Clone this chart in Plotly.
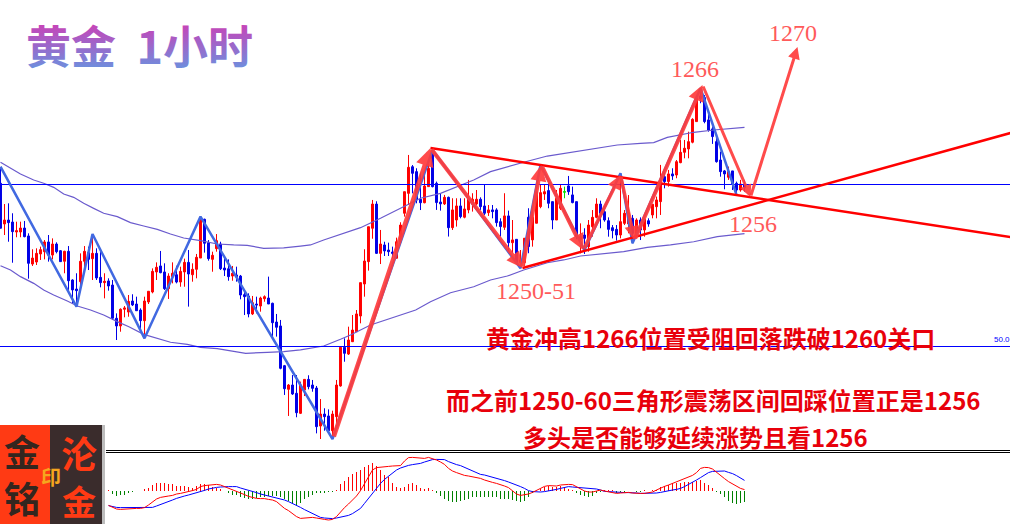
import plotly.graph_objects as go

# hourly candles (bar number = position in the list)
opens = [1257.56,1254.17,1254.5,1254.33,1253.5,1253.5,1253.83,1253.17,1250.83,1251.0,
1251.67,1251.86,1252.67,1251.58,1252.5,1251.94,1251.06,1251.89,1249.5,1248.75,
1249.36,1251.06,1251.78,1251.28,1251.72,1249.72,1249.28,1249.42,1249.08,1246.31,
1245.67,1247.06,1246.83,1247.75,1247.5,1247.0,1246.11,1247.67,1248.5,1250.17,
1250.67,1250.17,1248.78,1249.78,1249.94,1249.33,1250.17,1250.97,1249.94,1250.39,
1251.33,1254.56,1252.61,1251.22,1252.11,1252.5,1250.5,1250.44,1249.83,1249.92,
1249.83,1248.28,1248.17,1246.67,1247.5,1247.33,1247.94,1248.0,1247.56,1246.0,
1245.67,1242.36,1240.39,1240.75,1240.06,1238.39,1240.33,1241.22,1240.75,1240.5,
1237.33,1238.33,1238.17,1236.94,1238.11,1240.67,1243.89,1243.33,1244.36,1245.19,
1246.5,1249.17,1251.03,1253.81,1255.83,1251.72,1252.42,1252.0,1251.83,1251.31,
1252.69,1255.06,1256.72,1258.94,1258.53,1256.22,1255.94,1257.28,1260.28,1257.56,
1256.0,1255.84,1256.39,1253.86,1254.5,1255.67,1254.73,1255.34,1255.84,1255.84,
1256.23,1255.67,1255.11,1255.34,1255.34,1254.36,1253.89,1254.84,1252.61,1252.89,
1250.95,1250.95,1254.73,1252.84,1254.23,1255.61,1256.67,1256.95,1256.03,1254.5,
1255.48,1256.81,1257.34,1256.59,1256.03,1252.89,1253.25,1252.28,1253.94,1254.72,
1255.83,1255.19,1254.44,1253.86,1253.72,1253.25,1254.22,1254.17,1254.64,1253.39,
1254.5,1253.67,1254.44,1254.92,1255.61,1256.03,1258.11,1257.7,1258.34,1258.25,
1259.28,1260.14,1260.42,1260.98,1262.7,1264.84,1264.7,1262.84,1262.09,1261.03,
1259.5,1258.59,1258.06,1258.59,1257.56,1257.0,1257.42]
highs = [1258.81,1255.83,1255.89,1255.06,1254.36,1254.36,1254.42,1253.39,1252.06,1252.14,
1252.28,1252.83,1253.25,1252.97,1252.64,1252.0,1251.94,1252.33,1249.56,1250.06,
1251.72,1252.33,1252.28,1253.11,1252.14,1251.94,1250.06,1249.64,1249.5,1246.72,
1247.14,1247.33,1248.25,1248.31,1248.11,1247.14,1248.11,1248.56,1250.47,1250.97,
1251.92,1250.89,1250.06,1250.97,1250.69,1250.61,1251.28,1252.0,1250.89,1251.67,
1254.78,1254.61,1252.83,1251.86,1253.33,1252.69,1251.31,1251.22,1250.67,1250.61,
1249.92,1248.53,1248.39,1248.17,1248.11,1248.11,1248.22,1249.78,1247.61,1246.67,
1246.17,1242.42,1240.83,1241.58,1241.58,1241.03,1241.22,1241.56,1241.17,1240.67,
1239.58,1238.81,1238.72,1238.61,1241.17,1243.89,1244.64,1245.61,1246.58,1247.0,
1249.28,1252.06,1253.94,1256.17,1256.06,1253.67,1252.69,1252.61,1252.28,1253.03,
1254.31,1256.86,1259.92,1259.08,1258.81,1258.39,1258.39,1259.5,1260.34,1257.7,
1256.73,1256.59,1256.45,1256.31,1256.31,1256.31,1256.31,1257.84,1256.73,1257.0,
1256.39,1257.48,1255.75,1255.75,1255.48,1254.64,1256.73,1255.28,1254.5,1252.89,
1252.0,1252.98,1255.48,1255.34,1257.28,1257.42,1257.5,1257.56,1256.03,1257.0,
1257.42,1257.28,1258.17,1257.28,1256.03,1254.22,1253.81,1254.5,1255.33,1256.31,
1256.11,1255.33,1254.72,1254.08,1254.08,1258.39,1255.33,1256.58,1254.92,1254.64,
1254.72,1254.83,1254.64,1255.81,1256.45,1259.09,1258.53,1258.67,1258.81,1259.5,
1261.17,1261.17,1261.86,1262.98,1264.78,1265.48,1264.92,1263.39,1262.28,1261.45,
1260.2,1258.67,1258.95,1258.59,1257.7,1257.84,1257.84]
lows = [1253.81,1253.25,1252.69,1250.94,1253.06,1253.06,1253.06,1249.61,1250.67,1250.75,
1251.17,1251.22,1251.03,1251.22,1251.72,1251.03,1250.06,1248.67,1247.5,1247.28,
1248.61,1250.33,1250.33,1249.5,1249.5,1248.89,1247.97,1248.61,1246.17,1244.5,
1245.19,1246.39,1246.44,1247.33,1246.94,1245.33,1244.64,1247.5,1248.39,1249.5,
1250.06,1248.67,1247.92,1249.22,1249.22,1248.94,1248.94,1247.28,1249.36,1249.64,
1251.33,1251.78,1251.11,1250.19,1251.86,1250.33,1249.83,1249.44,1249.44,1249.36,
1247.89,1246.58,1246.39,1246.58,1246.72,1246.86,1247.69,1247.5,1244.78,1244.78,
1242.06,1239.92,1238.17,1239.92,1238.06,1238.33,1239.83,1240.39,1240.19,1236.72,
1236.25,1236.94,1236.94,1236.31,1237.56,1240.61,1242.69,1243.25,1244.33,1245.19,
1245.89,1248.11,1250.28,1252.94,1251.67,1250.83,1251.5,1251.5,1251.31,1251.31,
1252.56,1254.78,1255.75,1256.72,1255.89,1255.33,1255.89,1257.28,1257.22,1255.34,
1255.28,1255.75,1253.12,1253.67,1253.95,1254.64,1254.64,1255.06,1255.2,1255.75,
1255.34,1254.92,1254.84,1254.64,1253.95,1253.12,1253.67,1251.73,1251.73,1250.89,
1250.48,1250.61,1251.73,1252.28,1254.23,1255.48,1256.17,1255.48,1253.73,1254.5,
1255.34,1256.31,1256.59,1255.89,1252.9,1251.72,1251.67,1251.86,1253.11,1254.64,
1253.81,1254.36,1253.11,1252.97,1252.78,1252.97,1254.08,1253.39,1252.56,1253.11,
1252.83,1253.11,1253.94,1254.64,1254.64,1254.92,1257.14,1257.28,1257.84,1257.98,
1259.23,1259.64,1259.64,1260.89,1262.7,1264.23,1262.56,1261.86,1260.84,1259.28,
1258.11,1257.06,1257.84,1257.0,1256.59,1256.86,1256.86]
closes = [1253.81,1254.5,1254.28,1253.53,1253.61,1253.83,1253.11,1250.89,1251.33,1251.72,
1252.03,1252.67,1251.58,1252.5,1251.86,1251.03,1251.89,1249.44,1248.67,1248.61,
1251.06,1251.89,1251.22,1251.72,1249.67,1249.28,1249.39,1249.0,1246.31,1245.67,
1247.06,1247.17,1247.72,1247.42,1246.94,1246.11,1247.75,1248.56,1250.22,1250.56,
1250.11,1248.78,1249.83,1250.06,1249.33,1250.22,1250.97,1250.0,1250.39,1251.39,
1254.56,1252.56,1251.28,1251.56,1252.78,1250.44,1250.33,1249.78,1250.06,1249.78,
1248.25,1248.11,1246.67,1247.61,1247.42,1248.0,1248.11,1247.5,1245.94,1245.56,
1242.14,1240.44,1240.75,1240.0,1238.44,1240.75,1241.22,1240.61,1240.47,1237.28,
1238.33,1238.11,1236.94,1238.33,1240.75,1243.89,1243.39,1244.5,1245.33,1246.67,
1249.28,1251.08,1253.94,1255.83,1251.72,1252.5,1251.92,1251.86,1251.72,1252.69,
1254.08,1256.86,1258.89,1258.39,1256.17,1255.94,1257.33,1258.81,1257.28,1255.95,
1255.84,1256.39,1253.86,1255.34,1255.67,1254.78,1255.42,1256.23,1256.23,1256.23,
1255.61,1255.06,1255.34,1255.2,1254.28,1253.95,1254.84,1252.61,1252.84,1250.95,
1251.17,1252.98,1252.28,1254.73,1256.86,1256.78,1256.86,1255.89,1254.5,1256.31,
1257.14,1256.86,1256.86,1255.95,1253.11,1253.11,1252.97,1254.08,1254.72,1255.83,
1255.06,1254.5,1253.72,1253.61,1253.25,1254.36,1255.06,1255.11,1253.39,1254.5,
1253.67,1254.56,1254.17,1255.81,1256.17,1257.7,1257.7,1258.34,1258.17,1259.36,
1260.14,1260.48,1261.03,1262.89,1264.64,1264.61,1262.7,1262.0,1261.45,1259.36,
1258.53,1258.34,1258.53,1257.5,1257.0,1257.5,1257.2]
doji_bar = 141  # the single green bar

# moving average channel
upper_x = [0,2.5,5,8.3,10.8,13.3,15.8,18.3,20.8,23.3,25.8,29.2,32.5,35.8,39.2,42.5,45.8,50,54.2,58.3,61.7,65.8,70.8,75,77.5,80.8,85,90,95,100,105,110,114.2,118.3,122.5,126.7,130.8,136.7,143.3,148.3,154.2,160,163.3,166.7,170,173.3,178.3,186]
upper_y = [1259.31,1258.81,1258.33,1257.83,1257.56,1257.22,1256.67,1256.39,1255.89,1255.47,1255.06,1254.78,1254.28,1254.0,1253.72,1253.33,1253.0,1252.78,1252.5,1252.42,1252.39,1252.14,1252.17,1252.33,1252.42,1252.83,1253.31,1253.86,1254.64,1255.47,1256.31,1256.72,1257.28,1257.83,1258.53,1258.94,1259.31,1259.83,1260.19,1260.47,1260.75,1260.89,1260.95,1261.39,1261.59,1261.81,1262.0,1262.22]
lower_x = [0,2.5,5,8.3,10.8,13.3,16.7,19.2,22.5,25.8,29.2,32.1,35.8,39.2,42.5,46.7,50,54.2,58.3,61.3,66.7,70.8,75,79.2,80.8,85,87.5,92.5,97.5,103.8,107.5,112.5,118.3,122.5,126.7,130.8,136.7,140.8,145,150,155.8,161.7,167.5,173.3,179.2,186]
lower_y = [1250.69,1250.33,1249.78,1249.22,1248.67,1248.25,1247.75,1247.33,1247.0,1246.58,1246.03,1245.61,1244.97,1244.64,1244.31,1244.14,1243.89,1243.78,1243.53,1243.39,1243.47,1243.53,1243.67,1243.89,1244.0,1244.56,1244.92,1245.75,1246.31,1247.0,1247.69,1248.44,1248.94,1249.5,1249.83,1250.33,1250.94,1251.17,1251.5,1251.67,1251.86,1252.22,1252.42,1252.69,1253.11,1253.36]

# zigzag indicator
zigzag_x = [0,19,23,36,50,83,108,130,135,146,155,158,175,184]
zigzag_y = [1258.94,1247.28,1253.33,1244.64,1254.78,1236.25,1260.34,1250.48,1259.08,1252.0,1258.39,1252.56,1265.48,1256.6]

# hand drawn arrows: tail bar, tail price, head bar, head price, line width
arrow_x0 = [83.2,107.5,130.5,135.2,145.7,155,158.5,175.5,187.5]
arrow_y0 = [1236.33,1260.5,1250.5,1259.08,1252,1258.25,1252.83,1265.75,1256.42]
arrow_x1 = [107.5,130.5,135.2,145.7,155,158.5,175.5,187.5,199.25]
arrow_y1 = [1260.5,1250.5,1259.08,1252,1258.25,1252.83,1265.75,1256.42,1268.92]
arrow_w = [4.5,4,4,4,3.5,3.5,4,3,3]

# triangle lines and horizontal levels
tri_upper_x = [107.5,252.5]
tri_upper_y = [1260.5,1253.08]
tri_lower_x = [130.5,252.5]
tri_lower_y = [1250.5,1261.75]
levels = [1257.458,1243.958]

# MACD panel, starts at bar 27
macd_start = 27
macd_hist = [.03,-.15,-.25,-.22,-.18,-.08,-.03,0,0,.07,.15,.32,.40,.40,.38,.37,.33,.27,.25,.25,.18,.13,.25,.35,.35,.32,.22,.15,.07,0,
-.12,-.18,-.22,-.28,-.33,-.38,-.42,-.37,-.32,-.28,-.25,-.25,-.27,-.3,-.42,-.52,-.62,-.68,-.58,-.38,-.28,-.18,-.12,-.1,-.07,-.03,-.02,.05,.35,.52,
.68,.85,.97,1.05,1.18,1.3,1.38,1.27,1.05,.8,.68,.38,.22,
.13,.22,.33,.4,.3,.17,.12,.15,.02,-.08,-.25,-.38,-.48,-.55,-.55,-.52,-.45,-.42,-.32,-.28,-.32,-.28,-.32,-.32,-.32,-.38,-.38,-.38,-.45,-.52,-.55,-.48,-.28,-.12,0,
.12,.22,.25,.22,.22,.25,.22,.12,.05,-.08,-.18,-.25,-.28,-.25,-.12,-.05,.05,.05,.02,-.08,-.05,-.02,0,0,-.03,-.02,.02,0,.02,.05,
.22,.27,.32,.38,.42,.42,.43,.45,.47,.52,.55,.42,.3,.13,-.03,-.15,-.32,-.48,-.58,-.65,-.62,-.57]
macd_line = [-.72,-.82,-.90,-.92,-.90,-.88,-.87,-.87,-.87,-.83,-.70,-.53,-.40,-.32,-.30,-.25,-.22,-.15,-.12,-.08,-.05,.02,.08,.22,.27,.28,.30,.33,.30,.22,
.15,.08,.02,-.08,-.18,-.27,-.32,-.37,-.38,-.38,-.42,-.45,-.53,-.70,-.87,-.98,-1.15,-1.28,-1.37,-1.35,-1.32,-1.32,-1.35,-1.40,-1.42,-1.45,-1.42,-1.28,-1.03,-.83,
-.65,-.45,-.25,.02,.38,.72,1.05,1.17,1.18,1.22,1.23,1.25,1.25,
1.27,1.50,1.67,1.68,1.67,1.63,1.63,1.68,1.63,1.55,1.45,1.33,1.13,1.00,.92,.85,.78,.75,.72,.68,.63,.55,.48,.43,.38,.33,.25,.17,.02,-.15,-.22,-.20,-.15,-.07,.02,.13,
.23,.27,.25,.25,.30,.33,.33,.32,.20,.10,0,-.05,-.05,0,.05,0,-.05,-.08,-.12,-.10,-.07,-.07,-.10,-.12,-.12,-.12,-.10,-.05,.05,.15,
.23,.30,.38,.47,.55,.62,.68,.78,.92,1.13,1.18,1.17,1.10,.93,.78,.62,.47,.35,.25,.13,.07]
signal_line = [-.73,-.78,-.82,-.83,-.83,-.83,-.83,-.83,-.85,-.85,-.83,-.82,-.75,-.68,-.62,-.53,-.45,-.37,-.30,-.25,-.20,-.15,-.10,-.03,.03,.10,.15,.18,.20,.22,
.22,.22,.22,.15,.10,.05,-.02,-.08,-.15,-.20,-.25,-.28,-.33,-.38,-.45,-.53,-.62,-.70,-.82,-.93,-1.03,-1.13,-1.23,-1.32,-1.35,-1.37,-1.38,-1.35,-1.30,-1.27,
-1.22,-1.13,-1.02,-.87,-.62,-.37,-.08,.13,.38,.58,.75,.92,1.05,
1.15,1.22,1.28,1.32,1.35,1.38,1.45,1.52,1.57,1.58,1.58,1.57,1.47,1.38,1.32,1.27,1.18,1.10,1.00,.88,.83,.80,.75,.68,.63,.58,.52,.45,.38,.30,.22,.13,.02,-.03,-.05,-.05,
-.03,0,.03,.08,.13,.18,.22,.20,.18,.18,.17,.13,.12,.10,.05,-.02,-.03,-.05,-.07,-.07,-.08,-.08,-.08,-.10,-.12,-.12,-.12,-.12,-.10,-.07,
-.02,.02,.05,.08,.13,.22,.32,.43,.55,.67,.78,.92,.98,.98,1.00,1.00,.93,.87,.77,.65,.53]

# price labels: text, bar, price
price_labels = ["1270", "1266", "1256", "1250-51"]
price_label_x = [198.2, 173.7, 188.2, 133.8]
price_label_y = [1270.08, 1267.08, 1254.17, 1248.58]

# red comment lines: text, bar, price
comments = ["黄金冲高1266位置受阻回落跌破1260关口",
            "而之前1250-60三角形震荡区间回踩位置正是1256",
            "多头是否能够延续涨势且看1256"]
comment_x = [177.4, 178.2, 173.7]
comment_y = [1244.67, 1239.58, 1236.42]

W, H = 1010, 524
BLUE = "#0000ff"
RED = "#ff0000"
PANEL_TOP = 1 - 453 / H

fig = go.Figure()

bars = list(range(len(opens)))
normal = [i for i in bars if i != doji_bar]
fig.add_trace(go.Candlestick(
    x=normal,
    open=[opens[i] for i in normal], high=[highs[i] for i in normal],
    low=[lows[i] for i in normal], close=[closes[i] for i in normal],
    increasing=dict(line=dict(color="#ff0000", width=1), fillcolor="#ff0000"),
    decreasing=dict(line=dict(color="#0000e6", width=1), fillcolor="#0000e6"),
    hoverinfo="skip", showlegend=False))
fig.add_trace(go.Candlestick(
    x=[doji_bar - 1, doji_bar],
    open=[None, opens[doji_bar]], high=[None, highs[doji_bar]],
    low=[None, lows[doji_bar]], close=[None, closes[doji_bar]],
    increasing=dict(line=dict(color="#00e000", width=1), fillcolor="#00e000"),
    decreasing=dict(line=dict(color="#00e000", width=1), fillcolor="#00e000"),
    hoverinfo="skip", showlegend=False))

for xs, ys in [(upper_x, upper_y), (lower_x, lower_y)]:
    fig.add_trace(go.Scatter(x=xs, y=ys, mode="lines", hoverinfo="skip",
                             line=dict(color="#6a5acd", width=1.2), showlegend=False))

for lv in levels:
    fig.add_trace(go.Scatter(x=[-1, 253], y=[lv, lv], mode="lines", hoverinfo="skip",
                             line=dict(color=BLUE, width=1), showlegend=False))

fig.add_trace(go.Scatter(x=zigzag_x, y=zigzag_y, mode="lines", hoverinfo="skip",
                         line=dict(color="#4169e1", width=2.5), showlegend=False))

fig.add_trace(go.Scatter(x=tri_upper_x, y=tri_upper_y, mode="lines", hoverinfo="skip",
                         line=dict(color=RED, width=2.5), showlegend=False))
fig.add_trace(go.Scatter(x=tri_lower_x, y=tri_lower_y, mode="lines", hoverinfo="skip",
                         line=dict(color=RED, width=2.5), showlegend=False))

# MACD
macd_x = list(range(macd_start, macd_start + len(macd_hist)))
fig.add_trace(go.Bar(x=macd_x, y=macd_hist, width=0.25, yaxis="y2", hoverinfo="skip",
                     marker=dict(color=["#ff0000" if v >= 0 else "#008000" for v in macd_hist],
                                 line=dict(width=0)),
                     showlegend=False))
fig.add_trace(go.Scatter(x=macd_x, y=signal_line, yaxis="y2", mode="lines", hoverinfo="skip",
                         line=dict(color=BLUE, width=1), showlegend=False))
fig.add_trace(go.Scatter(x=macd_x, y=macd_line, yaxis="y2", mode="lines", hoverinfo="skip",
                         line=dict(color=RED, width=1), showlegend=False))

annotations = []

for i in range(len(arrow_x0)):
    annotations.append(dict(x=arrow_x1[i], y=arrow_y1[i], ax=arrow_x0[i], ay=arrow_y0[i],
                            xref="x", yref="y", axref="x", ayref="y", text="",
                            showarrow=True, arrowhead=2, arrowsize=0.8, arrowwidth=arrow_w[i],
                            arrowcolor="rgba(255,60,60,0.92)", standoff=0))

for t, x, y in zip(price_labels, price_label_x, price_label_y):
    annotations.append(dict(x=x, y=y, xref="x", yref="y", text=t, showarrow=False,
                            font=dict(family="Liberation Serif", size=24, color="#ff5a5a")))

for t, x, y in zip(comments, comment_x, comment_y):
    annotations.append(dict(x=x, y=y, xref="x", yref="y", text=t, showarrow=False,
                            font=dict(family="Noto Sans CJK SC", size=24, color="#e8000b",
                                      weight="bold")))

# small label of the 50.0 level at the page edge
annotations.append(dict(x=247.9, y=levels[1] + 0.55, xref="x", yref="y", text="50.0",
                        xanchor="left", showarrow=False,
                        font=dict(family="Liberation Sans", size=8, color=BLUE)))

# title, gets its gradient in post_script
annotations.append(dict(x=24 / W, y=1 - 44 / H, xref="paper", yref="paper",
                        text="黄金\u00a0\u00a01小时", xanchor="left", yanchor="middle",
                        showarrow=False,
                        font=dict(family="Noto Sans CJK SC", size=45, color="#a060c0",
                                  weight="bold")))

# logo stamp
logo_text = [("金", 22, 450, 36, "#33261f"), ("铭", 22, 497, 36, "#33261f"),
             ("沦", 79, 452, 36, "#ff3a14"), ("金", 79, 500, 34, "#ff3a14"),
             ("印", 51, 476, 20, "#f5a61e")]
for t, x, y, s, c in logo_text:
    annotations.append(dict(x=x / W, y=1 - y / H, xref="paper", yref="paper", text=t,
                            xanchor="center", yanchor="middle", showarrow=False,
                            font=dict(family="Noto Sans CJK SC", size=s, color=c, weight="bold")))


def box(x0, x1, y0, y1, color):
    return dict(type="rect", xref="paper", yref="paper", x0=x0 / W, x1=x1 / W,
                y0=1 - y1 / H, y1=1 - y0 / H, fillcolor=color, line=dict(width=0), layer="above")


def rule(y):
    return dict(type="line", xref="paper", yref="paper", x0=106 / W, x1=1,
                y0=1 - y / H, y1=1 - y / H, line=dict(color="black", width=1), layer="above")


shapes = [box(0, 50, 425, 524, "#ff3a14"), box(50, 102, 425, 524, "#3a2c2c"),
          box(102, 105, 425, 524, "#bdbdbd"), rule(450.5), rule(452.5)]

fig.update_layout(
    width=W, height=H, margin=dict(l=0, r=0, t=0, b=0),
    paper_bgcolor="white", plot_bgcolor="white", showlegend=False, bargap=0,
    xaxis=dict(range=[-0.125, 252.375], visible=False, rangeslider=dict(visible=False),
               anchor="y"),
    yaxis=dict(range=[1235.083, 1272.833], domain=[PANEL_TOP, 1], visible=False),
    yaxis2=dict(range=[-1.65, 1.9], domain=[0, PANEL_TOP], visible=False, anchor="x"),
    annotations=annotations, shapes=shapes)

# plotly has no gradient text, so the title fill is set on the drawn svg
post_script = """
document.body.style.margin = '0';
var svg = document.querySelector('.infolayer').ownerSVGElement;
var ns = 'http://www.w3.org/2000/svg';
var defs = document.createElementNS(ns, 'defs');
var g = document.createElementNS(ns, 'linearGradient');
g.setAttribute('id', 'titlefill');
g.setAttribute('x1', '0'); g.setAttribute('y1', '0.12');
g.setAttribute('x2', '0'); g.setAttribute('y2', '0.88');
[['0', '#d03cb4'], ['1', '#6c90de']].forEach(function (s) {
  var st = document.createElementNS(ns, 'stop');
  st.setAttribute('offset', s[0]); st.setAttribute('stop-color', s[1]);
  g.appendChild(st);
});
defs.appendChild(g);
svg.appendChild(defs);
document.querySelectorAll('.annotation-text').forEach(function (t) {
  if (t.textContent.indexOf('1小时') >= 0) t.style.setProperty('fill', 'url(#titlefill)');
});
"""

fig.write_html("out.html", config=dict(displayModeBar=False), post_script=post_script)
